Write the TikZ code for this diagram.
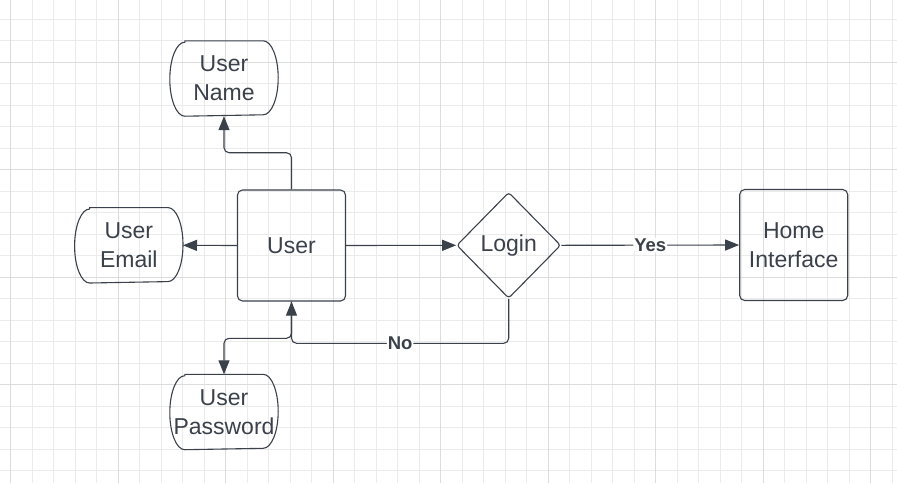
\documentclass[tikz,border=0pt]{standalone}
\usepackage{fontspec}
\setmainfont{Liberation Sans}
\usetikzlibrary{shapes.geometric,arrows.meta}
\definecolor{dark}{HTML}{3A414A}
\definecolor{gridminor}{HTML}{EBEBEB}
\definecolor{gridmajor}{HTML}{DCDCDC}
\tikzset{
  box/.style={draw=dark, line width=1.1pt, rounded corners=5pt, minimum width=108pt, minimum height=111pt, inner sep=0pt, align=center, text=dark, font=\fontsize{23}{29}\selectfont},
  termbox/.style={minimum width=108pt, minimum height=75pt, inner sep=0pt, align=center, text=dark, font=\fontsize{23}{29}\selectfont},
  decision/.style={shape=diamond, draw=dark, line width=1.1pt, rounded corners=3pt, minimum width=104pt, minimum height=106pt, inner sep=0pt, text=dark, font=\fontsize{23}{29}\selectfont},
  conn/.style={draw=dark, line width=1.1pt, rounded corners=5pt, -{Triangle[length=14pt,width=11pt]}},
  lbl/.style={fill=white, inner sep=1pt, text=dark, font=\fontsize{18.5}{20}\selectfont\bfseries}
}
\newcommand\termshape[1]{\draw[draw=dark, line width=1.1pt]
  ([xshift=15pt]#1.north west) -- ([xshift=-15pt]#1.north east)
  arc[start angle=90, end angle=-90, x radius=15pt, y radius=37pt]
  -- ([xshift=15pt]#1.south west)
  arc[start angle=270, end angle=90, x radius=15pt, y radius=37pt] -- cycle;}
\begin{document}
\begin{tikzpicture}[x=1pt, y=-1pt]
\useasboundingbox (0,0) rectangle (897,483);
\fill[white] (0,0) rectangle (897,483);
% grid
\foreach \k in {0,...,41} { \draw[gridminor, line width=0.8pt] ({10.8+21.5*\k},0) -- ({10.8+21.5*\k},483); }
\foreach \k in {0,...,21} { \draw[gridminor, line width=0.8pt] (0,{19.3+21.5*\k}) -- (897,{19.3+21.5*\k}); }
\foreach \m in {0,...,8} { \draw[gridmajor, line width=0.9pt] ({10.8+107.5*\m},0) -- ({10.8+107.5*\m},483); }
\foreach \m in {0,...,3} { \draw[gridmajor, line width=0.9pt] (0,{62.3+107.5*\m}) -- (897,{62.3+107.5*\m}); }

% nodes
\node[box] (user) at (291.5,245.5) {User};
\node[box] (home) at (793.7,245) {Home\\Interface};
\node[decision] (login) at (508.7,245.3) {Login};
\node[termbox] (uname) at (224,78.5) {User\\Name};
\node[termbox] (uemail) at (128.8,245.3) {User\\Email};
\node[termbox] (upass) at (224,412) {User\\Password};
\termshape{uname}
\termshape{uemail}
\termshape{upass}

% bend points
\coordinate (b1) at (291.5,152.7);
\coordinate (b2) at (508.7,343.3);
\coordinate (b3) at (291.5,338.3);

% connectors
\draw[conn] (user.north) -- (b1) -| (uname.south);
\draw[conn] (user.west) -- (uemail.east);
\draw[conn] (user.east) -- (login.west);
\draw[conn] (login.east) -- node[lbl] {Yes} (home.west);
\draw[conn] (login.south) -- (b2) -| node[lbl, pos=0.25] {No} (user.south);
\draw[conn] (user.south) -- (b3) -| (upass.north);
\end{tikzpicture}
\end{document}
